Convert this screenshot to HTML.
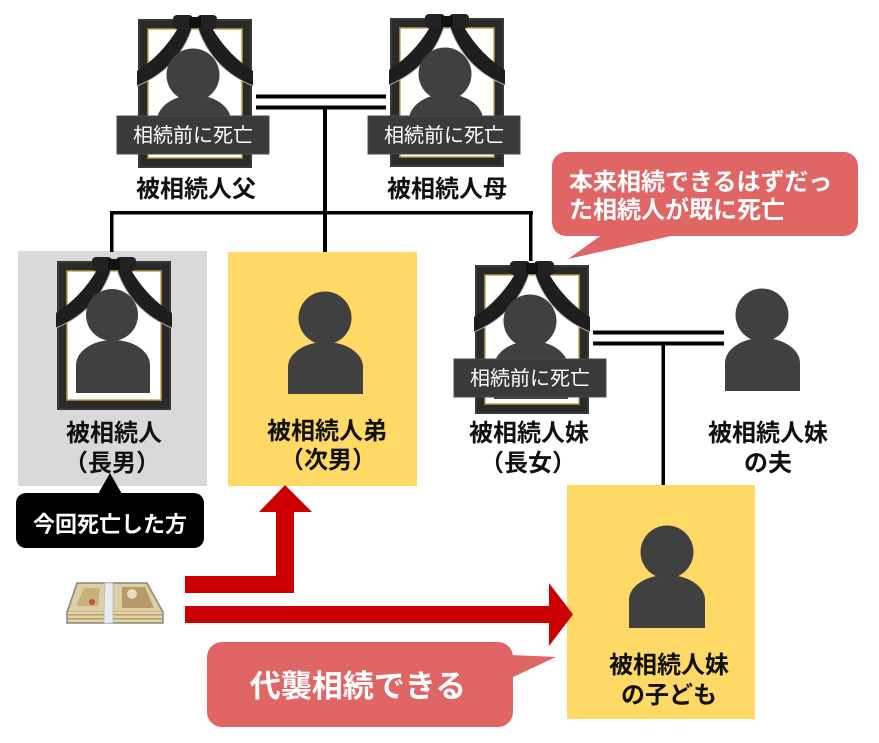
<!DOCTYPE html>
<html><head><meta charset="utf-8">
<style>
html,body{margin:0;padding:0;background:#fff;}
svg{display:block;}
text{font-family:"Liberation Sans","Noto Sans CJK JP",sans-serif;}
.lbl{font-size:24px;font-weight:bold;fill:#111;text-anchor:middle;}
.dl{font-size:20px;fill:#fff;text-anchor:middle;}
</style></head><body>
<svg width="879" height="743" viewBox="0 0 879 743" xmlns="http://www.w3.org/2000/svg">
<!-- backgrounds -->
<rect x="18" y="251" width="189" height="235" fill="#d9d9d9"/>
<rect x="228" y="252" width="189" height="234" fill="#ffd966"/>
<rect x="567" y="485" width="188" height="234" fill="#ffd966"/>

<!-- connector lines -->
<g fill="#000">
<rect x="256" y="94.5" width="130" height="4"/>
<rect x="256" y="105.5" width="130" height="4"/>
<rect x="323" y="107" width="4" height="145"/>
<rect x="110" y="211" width="423" height="3.5"/>
<rect x="110" y="211" width="3.5" height="41"/>
<rect x="529" y="211" width="3.5" height="50"/>
<rect x="593" y="330.5" width="131" height="4"/>
<rect x="593" y="341.5" width="131" height="4"/>
<rect x="661.5" y="343" width="3.5" height="142"/>
</g>

<!-- Father frame -->
<g transform="translate(138,19)">
 <rect x="0" y="0" width="114" height="149" fill="#2a2a2a"/>
 <rect x="1" y="1" width="112" height="147" fill="none" stroke="#454545" stroke-width="1"/>
 <rect x="9" y="9" width="96" height="131" fill="#9c7a2e"/>
 <rect x="10.5" y="10.5" width="93" height="128" fill="#fff"/>
 <path d="M40 9 Q24 36 -1 52 L-1 67 Q40 50 54 9 Z" fill="#1e1e1e"/>
 <path d="M-1 67 Q40 50 54 9" fill="none" stroke="#b0b0b0" stroke-width="1"/>
 <path d="M74 9 Q90 36 115 52 L115 67 Q74 50 60 9 Z" fill="#1e1e1e"/>
 <path d="M115 67 Q74 50 60 9" fill="none" stroke="#b0b0b0" stroke-width="1"/>
 <circle cx="55" cy="56" r="26.5" fill="#404040"/>
 <path d="M19 134 V102 A37 26 0 0 1 93 102 V134 Z" fill="#404040"/>
 <rect x="35" y="-4" width="20" height="14" rx="4" fill="#222"/>
 <rect x="59" y="-4" width="20" height="14" rx="4" fill="#222"/>
 <rect x="51" y="-2" width="12" height="11" rx="2" fill="#111"/>
 <rect x="-21" y="97" width="152" height="38" fill="#3a3a3a" stroke="#4c4c4c"/>
 <text class="dl" x="55" y="123">相続前に死亡</text>
</g>

<!-- Mother frame -->
<g transform="translate(390,18)">
 <rect x="0" y="0" width="114" height="149" fill="#2a2a2a"/>
 <rect x="1" y="1" width="112" height="147" fill="none" stroke="#454545" stroke-width="1"/>
 <rect x="9" y="9" width="96" height="131" fill="#9c7a2e"/>
 <rect x="10.5" y="10.5" width="93" height="128" fill="#fff"/>
 <path d="M40 9 Q24 36 -1 52 L-1 67 Q40 50 54 9 Z" fill="#1e1e1e"/>
 <path d="M-1 67 Q40 50 54 9" fill="none" stroke="#b0b0b0" stroke-width="1"/>
 <path d="M74 9 Q90 36 115 52 L115 67 Q74 50 60 9 Z" fill="#1e1e1e"/>
 <path d="M115 67 Q74 50 60 9" fill="none" stroke="#b0b0b0" stroke-width="1"/>
 <circle cx="55" cy="56" r="26.5" fill="#404040"/>
 <path d="M19 134 V102 A37 26 0 0 1 93 102 V134 Z" fill="#404040"/>
 <rect x="35" y="-4" width="20" height="14" rx="4" fill="#222"/>
 <rect x="59" y="-4" width="20" height="14" rx="4" fill="#222"/>
 <rect x="51" y="-2" width="12" height="11" rx="2" fill="#111"/>
 <rect x="-22" y="98" width="152" height="38" fill="#3a3a3a" stroke="#4c4c4c"/>
 <text class="dl" x="54" y="124">相続前に死亡</text>
</g>

<!-- Eldest son frame -->
<g transform="translate(57,261)">
 <rect x="0" y="0" width="114" height="149" fill="#2a2a2a"/>
 <rect x="1" y="1" width="112" height="147" fill="none" stroke="#454545" stroke-width="1"/>
 <rect x="9" y="9" width="96" height="131" fill="#9c7a2e"/>
 <rect x="10.5" y="10.5" width="93" height="128" fill="#fff"/>
 <path d="M40 9 Q24 36 -1 52 L-1 67 Q40 50 54 9 Z" fill="#1e1e1e"/>
 <path d="M-1 67 Q40 50 54 9" fill="none" stroke="#b0b0b0" stroke-width="1"/>
 <path d="M74 9 Q90 36 115 52 L115 67 Q74 50 60 9 Z" fill="#1e1e1e"/>
 <path d="M115 67 Q74 50 60 9" fill="none" stroke="#b0b0b0" stroke-width="1"/>
 <circle cx="55" cy="54" r="26" fill="#404040"/>
 <path d="M19 132 V104 A37 25 0 0 1 93 104 V132 Z" fill="#404040"/>
 <rect x="35" y="-4" width="20" height="14" rx="4" fill="#222"/>
 <rect x="59" y="-4" width="20" height="14" rx="4" fill="#222"/>
 <rect x="51" y="-2" width="12" height="11" rx="2" fill="#111"/>
</g>

<!-- Sister frame -->
<g transform="translate(475,265)">
 <rect x="0" y="0" width="114" height="149" fill="#2a2a2a"/>
 <rect x="1" y="1" width="112" height="147" fill="none" stroke="#454545" stroke-width="1"/>
 <rect x="9" y="9" width="96" height="131" fill="#9c7a2e"/>
 <rect x="10.5" y="10.5" width="93" height="128" fill="#fff"/>
 <path d="M40 9 Q24 36 -1 52 L-1 67 Q40 50 54 9 Z" fill="#1e1e1e"/>
 <path d="M-1 67 Q40 50 54 9" fill="none" stroke="#b0b0b0" stroke-width="1"/>
 <path d="M74 9 Q90 36 115 52 L115 67 Q74 50 60 9 Z" fill="#1e1e1e"/>
 <path d="M115 67 Q74 50 60 9" fill="none" stroke="#b0b0b0" stroke-width="1"/>
 <circle cx="55" cy="56" r="26.5" fill="#404040"/>
 <path d="M19 134 V102 A37 26 0 0 1 93 102 V134 Z" fill="#404040"/>
 <rect x="35" y="-4" width="20" height="14" rx="4" fill="#222"/>
 <rect x="59" y="-4" width="20" height="14" rx="4" fill="#222"/>
 <rect x="51" y="-2" width="12" height="11" rx="2" fill="#111"/>
 <rect x="-21" y="94" width="152" height="38" fill="#3a3a3a" stroke="#4c4c4c"/>
 <text class="dl" x="55" y="120">相続前に死亡</text>
</g>

<!-- Plain silhouettes -->
<g fill="#404040">
 <circle cx="325" cy="318" r="26.5"/>
 <path d="M288 394 V367 A37.5 25 0 0 1 363 367 V394 Z"/>
 <circle cx="762" cy="315" r="26.5"/>
 <path d="M725 391 V363 A37.5 25 0 0 1 800 363 V391 Z"/>
 <circle cx="667" cy="552" r="26.5"/>
 <path d="M629 628 V600 A38 25 0 0 1 705 600 V628 Z"/>
</g>

<!-- Labels -->
<text class="lbl" x="196" y="197">被相続人父</text>
<text class="lbl" x="447" y="197">被相続人母</text>
<text class="lbl" x="114" y="441">被相続人</text>
<text class="lbl" x="112" y="471">（長男）</text>
<text class="lbl" x="327" y="439">被相続人弟</text>
<text class="lbl" x="328" y="468">（次男）</text>
<text class="lbl" x="529" y="441">被相続人妹</text>
<text class="lbl" x="528" y="471">（長女）</text>
<text class="lbl" x="768" y="441">被相続人妹</text>
<text class="lbl" x="768" y="471">の夫</text>
<text class="lbl" x="669" y="673">被相続人妹</text>
<text class="lbl" x="669" y="703">の子ども</text>

<!-- Black callout -->
<rect x="16" y="493" width="188" height="55" rx="10" fill="#000"/>
<polygon points="98,494 110,473 122,494" fill="#000"/>
<text x="110" y="532" style="font-size:22px;font-weight:bold;fill:#fff;text-anchor:middle;">今回死亡した方</text>

<!-- Top red callout -->
<rect x="552" y="152" width="306" height="84" rx="14" fill="#e06666"/>
<polygon points="603,234 568,259 680,234" fill="#e06666"/>
<text x="569" y="190" style="font-size:24px;font-weight:bold;fill:#fff;">本来相続できるはずだっ</text>
<text x="569" y="218" style="font-size:24px;font-weight:bold;fill:#fff;">た相続人が既に死亡</text>

<!-- Arrows -->
<path d="M185 576 H276 V512 H259 L285 485 L312 512 H294 V593 H185 Z" fill="#cc0000"/>
<path d="M185 606 H549 V583 L573 614.5 L549 646 V623 H185 Z" fill="#cc0000"/>

<!-- Bottom red callout -->
<rect x="207" y="642" width="306" height="85" rx="15" fill="#e06666"/>
<polygon points="511,655 556,657 511,678" fill="#e06666"/>
<text x="358" y="697" style="font-size:31px;font-weight:bold;fill:#fff;text-anchor:middle;">代襲相続できる</text>

<!-- Money bundle -->
<g>
 <path d="M77 583 H147 L163 612 V623 H67 V612 Z" fill="#cdb886" stroke="#8a8a8a" stroke-width="1.5"/>
 <path d="M78 584 H146 L161 611 H69 Z" fill="#ddd0a6"/>
 <rect x="68" y="612" width="94" height="10" fill="#e3d6aa"/>
 <rect x="68" y="614" width="94" height="1.5" fill="#b89e64"/>
 <rect x="68" y="618" width="94" height="1.5" fill="#b89e64"/>
 <path d="M84 588 H100 L98 606 H76 Z" fill="#c9b27a"/>
 <circle cx="92" cy="602" r="3" fill="#c0504d"/>
 <path d="M122 587 H145 L154 608 H122 Z" fill="#b89b68"/>
 <circle cx="132" cy="594" r="5" fill="#e8dcc0"/>
 <path d="M105 583 H113 V623 H104 V612 Z" fill="#e6ecf0" stroke="#b0b8c0" stroke-width="0.8"/>
</g>
</svg>
</body></html>
